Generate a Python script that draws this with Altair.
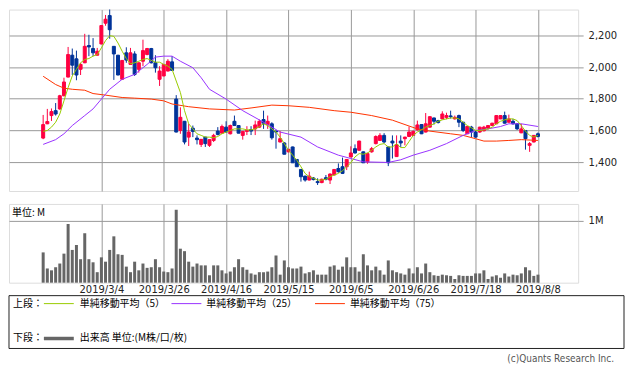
import altair as alt
import pandas as pd

# ---------------- data ----------------
opens = [1552, 1642, 1694, 1725, 1736, 1819, 1937, 2075, 2052, 1986,
         2027, 2136, 2117, 2075, 2146, 2277, 2325, 2131, 2075, 1923,
         2090, 2017, 2083, 1986, 2037, 2079, 2117, 2027, 1923, 1944,
         1975, 2033, 1798, 1600, 1658, 1558, 1614, 1552, 1512, 1558,
         1506, 1537, 1596, 1583, 1621, 1579, 1658, 1631, 1569, 1594,
         1606, 1610, 1621, 1669, 1637, 1642, 1596, 1527, 1521, 1465,
         1496, 1417, 1354, 1312, 1287, 1300, 1277, 1271, 1302, 1287,
         1319, 1360, 1371, 1371, 1433, 1485, 1475, 1465, 1402, 1465,
         1517, 1537, 1569, 1496, 1533, 1435, 1533, 1548, 1562, 1569,
         1604, 1637, 1590, 1621, 1679, 1662, 1673, 1683, 1692, 1673,
         1694, 1652, 1579, 1621, 1590, 1590, 1598, 1614, 1631, 1642,
         1673, 1694, 1652, 1658, 1642, 1585, 1600, 1506, 1527, 1579]
highs = [1698, 1736, 1739, 1773, 1825, 1933, 2127, 2117, 2104, 2027,
         2210, 2204, 2183, 2121, 2265, 2329, 2377, 2133, 2077, 2044,
         2125, 2121, 2100, 2029, 2173, 2121, 2121, 2075, 2006, 2019,
         2050, 2069, 1823, 1746, 1660, 1642, 1631, 1569, 1546, 1560,
         1544, 1579, 1621, 1637, 1658, 1637, 1694, 1633, 1596, 1627,
         1627, 1662, 1669, 1725, 1694, 1652, 1598, 1596, 1527, 1483,
         1498, 1419, 1356, 1314, 1340, 1306, 1298, 1296, 1319, 1329,
         1356, 1392, 1429, 1419, 1500, 1512, 1535, 1467, 1460, 1496,
         1569, 1583, 1583, 1498, 1569, 1569, 1569, 1560, 1625, 1600,
         1662, 1639, 1710, 1689, 1681, 1667, 1721, 1712, 1725, 1694,
         1700, 1654, 1627, 1629, 1600, 1623, 1629, 1633, 1648, 1696,
         1696, 1719, 1700, 1673, 1644, 1642, 1602, 1527, 1571, 1587]
lows = [1545, 1640, 1660, 1694, 1730, 1815, 1935, 1950, 1917, 1950,
        2025, 2069, 2069, 2073, 2144, 2261, 2179, 1919, 1948, 1921,
        2027, 2015, 1944, 1965, 2006, 2075, 2023, 1965, 1881, 1942,
        1973, 1977, 1588, 1579, 1512, 1502, 1558, 1512, 1496, 1496,
        1496, 1527, 1569, 1581, 1588, 1575, 1629, 1583, 1542, 1571,
        1571, 1571, 1617, 1610, 1610, 1542, 1485, 1525, 1450, 1463,
        1396, 1371, 1277, 1277, 1285, 1285, 1256, 1267, 1285, 1262,
        1317, 1333, 1325, 1350, 1431, 1454, 1473, 1396, 1390, 1460,
        1512, 1535, 1519, 1375, 1423, 1433, 1496, 1506, 1558, 1565,
        1600, 1577, 1588, 1619, 1637, 1644, 1671, 1671, 1675, 1669,
        1621, 1590, 1577, 1558, 1554, 1585, 1594, 1606, 1629, 1640,
        1671, 1644, 1650, 1637, 1604, 1583, 1479, 1465, 1525, 1556]
closes = [1637, 1656, 1719, 1704, 1819, 1906, 2079, 2012, 1950, 2017,
          2131, 2127, 2090, 2100, 2262, 2302, 2236, 2083, 1950, 2042,
          2044, 2090, 1954, 2027, 2104, 2117, 2027, 1996, 1975, 2017,
          2037, 1979, 1590, 1683, 1527, 1590, 1594, 1542, 1544, 1517,
          1542, 1569, 1575, 1625, 1590, 1631, 1631, 1583, 1594, 1600,
          1596, 1635, 1658, 1646, 1658, 1554, 1590, 1548, 1450, 1481,
          1396, 1371, 1308, 1287, 1312, 1290, 1271, 1292, 1292, 1325,
          1354, 1340, 1329, 1417, 1458, 1458, 1533, 1396, 1454, 1485,
          1562, 1569, 1527, 1396, 1521, 1510, 1521, 1558, 1590, 1594,
          1635, 1579, 1642, 1687, 1658, 1650, 1704, 1694, 1687, 1683,
          1652, 1600, 1625, 1590, 1558, 1621, 1621, 1631, 1646, 1694,
          1694, 1646, 1673, 1642, 1610, 1610, 1548, 1517, 1569, 1562]
volumes = [0.49, 0.23, 0.20, 0.25, 0.31, 0.47, 0.95, 0.53, 0.61, 0.38,
           0.80, 0.38, 0.33, 0.17, 0.41, 0.34, 0.53, 0.75, 0.46, 0.45,
           0.26, 0.17, 0.34, 0.20, 0.31, 0.24, 0.25, 0.38, 0.25, 0.18,
           0.17, 0.23, 1.18, 0.55, 0.51, 0.34, 0.26, 0.31, 0.28, 0.28,
           0.12, 0.28, 0.28, 0.20, 0.15, 0.18, 0.25, 0.38, 0.25, 0.21,
           0.15, 0.13, 0.17, 0.17, 0.18, 0.25, 0.44, 0.13, 0.36, 0.25,
           0.23, 0.23, 0.26, 0.15, 0.17, 0.20, 0.13, 0.13, 0.13, 0.26,
           0.28, 0.21, 0.26, 0.41, 0.25, 0.25, 0.18, 0.46, 0.28, 0.20,
           0.26, 0.20, 0.13, 0.36, 0.20, 0.17, 0.15, 0.13, 0.23, 0.15,
           0.25, 0.15, 0.31, 0.17, 0.12, 0.11, 0.13, 0.12, 0.11, 0.06,
           0.12, 0.11, 0.11, 0.11, 0.15, 0.15, 0.20, 0.06, 0.10, 0.12,
           0.08, 0.15, 0.10, 0.13, 0.12, 0.15, 0.25, 0.20, 0.11, 0.13]
ma5 = [1594, 1600, 1621, 1652, 1704, 1787, 1871, 1944, 1986, 2027,
       2048, 2054, 2069, 2079, 2121, 2167, 2198, 2194, 2152, 2100,
       2054, 2021, 2027, 2037, 2048, 2054, 2042, 2031, 2031, 2017,
       2006, 1986, 1912, 1840, 1725, 1642, 1610, 1579, 1569, 1558,
       1558, 1554, 1562, 1579, 1590, 1600, 1610, 1610, 1610, 1604,
       1604, 1610, 1625, 1642, 1631, 1610, 1590, 1558, 1517, 1475,
       1444, 1412, 1371, 1329, 1308, 1298, 1287, 1287, 1292, 1308,
       1319, 1329, 1346, 1371, 1396, 1433, 1454, 1450, 1458, 1475,
       1496, 1512, 1517, 1496, 1496, 1517, 1492, 1492, 1530, 1569,
       1590, 1604, 1621, 1631, 1642, 1658, 1667, 1673, 1679, 1679,
       1673, 1652, 1631, 1617, 1600, 1600, 1604, 1610, 1621, 1642,
       1658, 1667, 1673, 1673, 1662, 1631, 1596, 1569, 1558, 1569]
ma25_idx = [0, 3, 5, 7, 10, 12, 14, 16, 19, 22, 25, 27, 29, 31, 33, 36, 38, 40,
            44, 48, 53, 57, 62, 66, 71, 74, 77, 83, 86, 89, 93, 97, 101, 104,
            107, 110, 112, 115, 119]
ma25 = [1512, 1542, 1579, 1631, 1694, 1736, 1798, 1860, 1923, 1954, 2017, 2063,
        2069, 2069, 2037, 1996, 1933, 1860, 1798, 1725, 1652, 1590, 1558, 1496,
        1444, 1423, 1402, 1398, 1415, 1444, 1475, 1517, 1569, 1600, 1610, 1625,
        1642, 1642, 1625]
ma75_idx = [0, 3, 5, 7, 10, 12, 15, 19, 22, 26, 29, 31, 35, 40, 46, 50, 55, 59,
            64, 70, 74, 79, 84, 88, 90, 93, 98, 101, 104, 106, 109, 112, 115, 119]
ma75 = [1942, 1890, 1867, 1860, 1854, 1833, 1823, 1808, 1804, 1798, 1787, 1767,
        1750, 1736, 1729, 1742, 1760, 1756, 1746, 1725, 1715, 1694, 1665, 1628,
        1610, 1596, 1579, 1569, 1548, 1533, 1533, 1537, 1542, 1537]
tick_idx = [14, 29, 44, 59, 74, 89, 104, 119]
tick_labels = ["2019/3/4", "2019/3/26", "2019/4/16", "2019/5/15",
               "2019/6/5", "2019/6/26", "2019/7/18", "2019/8/8"]
price_ticks = [1400, 1600, 1800, 2000, 2200]
legend_labels = ["単純移動平均（5）", "単純移動平均（25）", "単純移動平均（75）"]
volume_label = "出来高 単位:(M株/口/枚)"

n = len(closes)
assert all(len(a) == n for a in (opens, highs, lows, volumes, ma5)), "length"
assert len(ma25) == len(ma25_idx) and len(ma75) == len(ma75_idx)

# ---------------- styling ----------------
RED = "#ff0040"
BLUE = "#003399"
GREEN = "#99cc00"
PURPLE = "#9933ff"
ORANGE = "#ff3300"
VOLC = "#666666"
GRID = "#999999"
TXT = "#222222"
JP = "Noto Sans CJK JP"
W, H1, H2 = 571, 182, 79
X_DOMAIN = [-7.02, 127.47]
PRICE_DOMAIN = [1218, 2363]
VOL_DOMAIN = [0, 1.274]

df = pd.DataFrame({"i": list(range(n)), "open": opens, "high": highs, "low": lows,
                   "close": closes, "volume": volumes, "ma5": ma5})
df["dir"] = ["up" if c >= o else "down" for o, c in zip(opens, closes)]
df25 = pd.DataFrame({"i": ma25_idx, "v": ma25})
df75 = pd.DataFrame({"i": ma75_idx, "v": ma75})

label_expr = ("[" + ",".join("'%s'" % t for t in tick_labels) + "][indexof(["
              + ",".join(str(t) for t in tick_idx) + "], datum.value)]")


def xenc(show_labels):
    return alt.X("i:Q", title=None,
                 scale=alt.Scale(domain=X_DOMAIN, nice=False, zero=False),
                 axis=alt.Axis(values=tick_idx, grid=True, gridColor=GRID, gridWidth=1,
                               ticks=False, domain=False, labels=show_labels,
                               labelExpr=label_expr, labelFontSize=10, labelPadding=2,
                               labelOverlap=False, labelFlush=False,
                               labelFont="DejaVu Sans", labelColor=TXT))


def yprice(field):
    return alt.Y(field, type="quantitative", title=None,
                 scale=alt.Scale(domain=PRICE_DOMAIN, nice=False, zero=False),
                 axis=alt.Axis(orient="right", values=price_ticks, format=",.0f", grid=True,
                               gridColor=GRID, gridWidth=1, tickSize=5, tickColor=GRID,
                               domain=False, labelPadding=5, labelFontSize=10,
                               labelFont="DejaVu Sans", labelColor=TXT))


dir_scale = alt.Scale(domain=["up", "down"], range=[RED, BLUE])

wick = alt.Chart(df).mark_rule(strokeWidth=1, clip=True).encode(
    x=xenc(False), y=yprice("low"), y2="high:Q",
    color=alt.Color("dir:N", scale=dir_scale, legend=None))
body = alt.Chart(df).mark_bar(size=3, strokeWidth=1, clip=True, orient="vertical").encode(
    x=xenc(False), y=yprice("open"), y2="close:Q",
    color=alt.Color("dir:N", scale=dir_scale, legend=None),
    stroke=alt.Stroke("dir:N", scale=dir_scale, legend=None))
line75 = alt.Chart(df75).mark_line(color=ORANGE, strokeWidth=1, clip=True).encode(
    x=xenc(False), y=yprice("v"))
line25 = alt.Chart(df25).mark_line(color=PURPLE, strokeWidth=1, clip=True).encode(
    x=xenc(False), y=yprice("v"))
line5 = alt.Chart(df).mark_line(color=GREEN, strokeWidth=1, clip=True).encode(
    x=xenc(False), y=yprice("ma5"))

price = alt.layer(wick, body, line75, line25, line5).properties(width=W, height=H1)

vol_bars = alt.Chart(df).mark_bar(size=3, color=VOLC, orient="vertical").encode(
    x=xenc(True),
    y=alt.Y("volume:Q", title=None, scale=alt.Scale(domain=VOL_DOMAIN, nice=False),
            axis=alt.Axis(orient="right", values=[1], labelExpr="'1M'", grid=True,
                          gridColor=GRID, gridWidth=1, tickSize=5, tickColor=GRID,
                          domain=False, labelPadding=5, labelFontSize=10,
                          labelFont="DejaVu Sans", labelColor=TXT)))

one = pd.DataFrame({"k": [0]})


def text_at(txt, x, y, size=10, color="#000", align="left", font=JP):
    return alt.Chart(one).mark_text(align=align, baseline="middle", font=font,
                                    fontSize=size, color=color).encode(
        x=alt.value(x), y=alt.value(y), text=alt.value(txt))


def rule_at(x1, x2, y, color, width):
    return alt.Chart(one).mark_rule(color=color, strokeWidth=width).encode(
        x=alt.value(x1), x2=alt.value(x2), y=alt.value(y))


unit_text = text_at("単位: M", 3, 9)
box = alt.Chart(one).mark_rect(fill="white", fillOpacity=0, stroke=TXT, strokeWidth=1).encode(
    x=alt.value(0), x2=alt.value(617), y=alt.value(92), y2=alt.value(145))

legend_layers = [text_at("上段：", 4, 100), text_at("下段：", 4, 135),
                 rule_at(35, 65, 135, VOLC, 3.5), text_at(volume_label, 71, 135)]
for lab, colr, lx, tx in zip(legend_labels, [GREEN, PURPLE, ORANGE], [35, 163, 307], [71, 198, 342]):
    legend_layers.append(rule_at(lx, lx + 30, 100, colr, 1))
    legend_layers.append(text_at(lab, tx, 100))

copyright_txt = text_at("(c)Quants Research Inc.", 607, 156, size=10, color="#555555",
                        align="right", font="DejaVu Sans Condensed, Liberation Sans Narrow, DejaVu Sans")

volume = alt.layer(vol_bars, unit_text, box, *legend_layers, copyright_txt).properties(
    width=W, height=H2)

chart = alt.vconcat(price, volume, spacing=11).properties(padding=0).configure_view(
    stroke=GRID, strokeWidth=1).configure(font="DejaVu Sans")

chart.save("out.html", embed_options={"renderer": "svg", "actions": False})
